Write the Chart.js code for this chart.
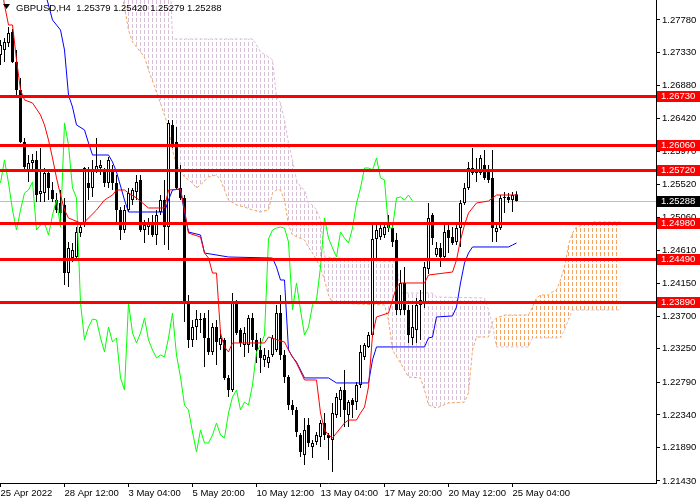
<!DOCTYPE html>
<html>
<head>
<meta charset="utf-8">
<script src="https://cdn.jsdelivr.net/npm/chart.js@4.4.1/dist/chart.umd.min.js"></script>
<style>
  html, body { margin: 0; padding: 0; background: #fff; }
</style>
</head>
<body>
<canvas id="chart" width="700" height="500"></canvas>
<script>
const symbolTitle = 'GBPUSD,H4  1.25379 1.25420 1.25279 1.25288';
const timeTickBars = [0, 16, 32, 48, 64, 80, 96, 112, 128];
const timeLabels = ['25 Apr 2022', '28 Apr 12:00', '3 May 04:00', '5 May 20:00', '10 May 12:00',
  '13 May 04:00', '17 May 20:00', '20 May 12:00', '25 May 04:00'];
const priceTicks = [1.27780, 1.27330, 1.26880, 1.26420, 1.25970, 1.25520, 1.25060, 1.24610,
  1.24150, 1.23700, 1.23250, 1.22790, 1.22340, 1.21890, 1.21430];
const levels = [1.26730, 1.26060, 1.25720, 1.24980, 1.24490, 1.23890];
const bidPrice = 1.25288;
const priceMin = 1.21402;
const priceMax = 1.28055;

// H4 candles, one per bar from 25 Apr 20:00
const open = [1.27297, 1.27366, 1.27463, 1.27614, 1.27201, 1.26815, 1.26099, 1.25714, 1.25810, 1.25852,
  1.25383, 1.25397, 1.25672, 1.25438, 1.25300, 1.25259, 1.25231, 1.24294, 1.24501, 1.24515,
  1.24845, 1.24956, 1.25535, 1.25466, 1.25714, 1.25741, 1.25714, 1.25535, 1.25714, 1.25535,
  1.25162, 1.24887, 1.25162, 1.25300, 1.25411, 1.25576, 1.24887, 1.24928, 1.24997, 1.24818,
  1.25135, 1.25300, 1.24928, 1.26334, 1.26099, 1.25466, 1.25328, 1.23882, 1.23372, 1.23551,
  1.23661, 1.23675, 1.23400, 1.23207, 1.23551, 1.23303, 1.23372, 1.22849, 1.22683, 1.23882,
  1.23510, 1.23303, 1.23303, 1.23675, 1.23372, 1.23234, 1.23097, 1.23055, 1.23165, 1.23234,
  1.23744, 1.23165, 1.22862, 1.22476, 1.22407, 1.22063, 1.21787, 1.22201, 1.21898, 1.21966,
  1.22035, 1.22228, 1.22063, 1.21994, 1.22338, 1.22545, 1.22683, 1.22338, 1.22545, 1.22517,
  1.22752, 1.23138, 1.23276, 1.23441, 1.24763, 1.24790, 1.24818, 1.24997, 1.24914, 1.24749,
  1.23785, 1.24157, 1.23785, 1.23400, 1.23510, 1.23854, 1.23882, 1.24349, 1.25093, 1.24542,
  1.24639, 1.24515, 1.24887, 1.24790, 1.24721, 1.24914, 1.25259, 1.25466, 1.25672, 1.25672,
  1.25672, 1.25783, 1.25714, 1.25604, 1.24859, 1.24914, 1.25328, 1.25342, 1.25300, 1.25379];
const high = [1.27504, 1.27532, 1.27683, 1.27656, 1.27366, 1.26981, 1.26155, 1.25920, 1.25934, 1.25976,
  1.26017, 1.25741, 1.25714, 1.25549, 1.25397, 1.25438, 1.25328, 1.24721, 1.24708, 1.24928,
  1.24983, 1.25755, 1.25755, 1.25852, 1.26155, 1.25852, 1.25741, 1.25893, 1.25783, 1.25645,
  1.25204, 1.25231, 1.25466, 1.25466, 1.25645, 1.25645, 1.25025, 1.25052, 1.25093, 1.25162,
  1.25369, 1.25576, 1.26403, 1.26403, 1.26306, 1.25783, 1.25369, 1.23992, 1.23648, 1.23785,
  1.23744, 1.23744, 1.23785, 1.23606, 1.23648, 1.23510, 1.23400, 1.22890, 1.24019, 1.23923,
  1.23537, 1.23551, 1.23716, 1.23744, 1.23468, 1.23400, 1.23262, 1.23234, 1.23441, 1.23854,
  1.23992, 1.23234, 1.22890, 1.22545, 1.22448, 1.22090, 1.22297, 1.22297, 1.21994, 1.22104,
  1.22269, 1.22366, 1.22090, 1.22504, 1.22642, 1.22725, 1.22959, 1.22545, 1.22573, 1.22793,
  1.23303, 1.23331, 1.23482, 1.24983, 1.24983, 1.24956, 1.24983, 1.25093, 1.24956, 1.24845,
  1.24336, 1.24377, 1.23854, 1.23854, 1.23950, 1.24060, 1.24446, 1.25259, 1.25121, 1.24721,
  1.24708, 1.24956, 1.24983, 1.24928, 1.24983, 1.25300, 1.25535, 1.25824, 1.26017, 1.25879,
  1.25920, 1.25989, 1.25783, 1.25989, 1.24983, 1.25369, 1.25411, 1.25397, 1.25411, 1.25420];
const low = [1.27160, 1.27201, 1.27408, 1.27187, 1.26719, 1.26086, 1.25714, 1.25549, 1.25714, 1.25272,
  1.25272, 1.25272, 1.25300, 1.25272, 1.25121, 1.24983, 1.24129, 1.24102, 1.24446, 1.24501,
  1.24790, 1.24928, 1.25300, 1.25342, 1.25672, 1.25645, 1.25480, 1.25466, 1.25438, 1.24997,
  1.24749, 1.24845, 1.25135, 1.25231, 1.25300, 1.24859, 1.24708, 1.24818, 1.24790, 1.24680,
  1.25093, 1.24680, 1.24611, 1.26017, 1.25438, 1.25300, 1.23620, 1.23262, 1.23276, 1.23372,
  1.23468, 1.23000, 1.23165, 1.23165, 1.23028, 1.23234, 1.22821, 1.22587, 1.22655, 1.23441,
  1.23276, 1.23138, 1.23193, 1.23276, 1.23055, 1.22917, 1.23000, 1.22986, 1.23138, 1.23207,
  1.23097, 1.22780, 1.22407, 1.22338, 1.22035, 1.21760, 1.21650, 1.21898, 1.21747, 1.21925,
  1.21898, 1.21994, 1.21719, 1.21554, 1.22297, 1.22311, 1.22173, 1.22173, 1.22297, 1.22407,
  1.22711, 1.23097, 1.23262, 1.23413, 1.24474, 1.24749, 1.24776, 1.24859, 1.24653, 1.23716,
  1.23716, 1.23716, 1.23331, 1.23303, 1.23331, 1.23372, 1.23813, 1.24281, 1.24680, 1.24515,
  1.24377, 1.24501, 1.24570, 1.24680, 1.24680, 1.24653, 1.25231, 1.25438, 1.25645, 1.25549,
  1.25645, 1.25576, 1.25535, 1.24721, 1.24721, 1.24887, 1.25121, 1.25259, 1.25135, 1.25279];
const close = [1.27435, 1.27476, 1.27600, 1.27201, 1.26815, 1.26099, 1.25755, 1.25810, 1.25852, 1.25369,
  1.25425, 1.25672, 1.25466, 1.25314, 1.25162, 1.25121, 1.24294, 1.24639, 1.24611, 1.24859,
  1.24928, 1.25741, 1.25466, 1.25714, 1.25769, 1.25783, 1.25535, 1.25852, 1.25535, 1.25162,
  1.24887, 1.25162, 1.25397, 1.25438, 1.25549, 1.24887, 1.24956, 1.24983, 1.24818, 1.25093,
  1.25300, 1.24928, 1.26361, 1.26058, 1.25466, 1.25328, 1.23882, 1.23372, 1.23551, 1.23661,
  1.23648, 1.23400, 1.23207, 1.23551, 1.23344, 1.23400, 1.22849, 1.22683, 1.23882, 1.23468,
  1.23331, 1.23468, 1.23675, 1.23372, 1.23234, 1.23124, 1.23165, 1.23138, 1.23400, 1.23744,
  1.23165, 1.22862, 1.22476, 1.22407, 1.22104, 1.21829, 1.22132, 1.21953, 1.21953, 1.22063,
  1.22228, 1.22063, 1.22022, 1.22366, 1.22587, 1.22683, 1.22407, 1.22517, 1.22476, 1.22752,
  1.23207, 1.23303, 1.23441, 1.24763, 1.24887, 1.24914, 1.24928, 1.24914, 1.24721, 1.23785,
  1.24157, 1.23785, 1.23441, 1.23551, 1.23854, 1.23923, 1.24377, 1.25052, 1.24776, 1.24639,
  1.24515, 1.24859, 1.24776, 1.24708, 1.24914, 1.25259, 1.25466, 1.25741, 1.25741, 1.25714,
  1.25879, 1.25604, 1.25576, 1.24914, 1.24914, 1.25328, 1.25342, 1.25300, 1.25369, 1.25288];

// Ichimoku lines, vertices (bar index, price)
const tenkanBars = [0, 1, 2, 3, 4, 5, 6, 8, 10, 11, 12, 13, 14, 15, 16, 17, 20, 21, 24, 26, 28, 29, 31, 32, 34,
  37, 41, 42, 45, 46, 47, 50, 51, 52, 53, 54, 55, 56, 57, 58, 66, 67, 71, 72, 73, 74, 76, 79, 80, 81,
  82, 83, 85, 86, 87, 89, 90, 91, 92, 93, 94, 97, 98, 99, 100, 106, 107, 113, 114, 115, 116, 117, 119, 122, 124, 129];
const tenkanVals = [1.28330, 1.27986, 1.27711, 1.27711, 1.27229, 1.26815, 1.26678, 1.26637, 1.26471, 1.26334,
  1.26127, 1.25879, 1.25604, 1.25369, 1.25162, 1.25052, 1.24983, 1.24997, 1.25162, 1.25300,
  1.25369, 1.25438, 1.25438, 1.25397, 1.25328, 1.25190, 1.25190, 1.25438, 1.25452, 1.25162,
  1.24845, 1.24790, 1.24570, 1.24501, 1.24294, 1.24294, 1.23468, 1.23276, 1.23207, 1.23331,
  1.23331, 1.23413, 1.23344, 1.23234, 1.23138, 1.23055, 1.22821, 1.22821, 1.22366, 1.22132,
  1.22063, 1.22022, 1.22159, 1.22228, 1.22269, 1.22269, 1.22366, 1.22448, 1.22725, 1.23441,
  1.23689, 1.23744, 1.23923, 1.24102, 1.24157, 1.24157, 1.24267, 1.24308, 1.24474, 1.24749,
  1.24956, 1.25121, 1.25259, 1.25286, 1.25369, 1.25369];
const kijunBars = [11, 12, 13, 15, 16, 17, 18, 19, 21, 22, 23, 27, 28, 29, 30, 31, 32, 41, 42, 43, 45, 46, 47, 50, 51,
  57, 68, 69, 70, 71, 72, 73, 74, 75, 76, 82, 84, 92, 93, 94, 106, 107, 108, 109, 113, 114, 115, 116, 117, 118,
  127, 128, 129];
const kijunVals = [1.28193, 1.27986, 1.27780, 1.27642, 1.27366, 1.26746, 1.26581, 1.26334, 1.26265, 1.26086,
  1.25920, 1.25920, 1.25824, 1.25686, 1.25493, 1.25300, 1.25135, 1.25135, 1.25300, 1.25438,
  1.25452, 1.25121, 1.24859, 1.24818, 1.24570, 1.24515, 1.24501, 1.24377, 1.24198, 1.24198,
  1.23234, 1.23138, 1.23069, 1.22959, 1.22849, 1.22849, 1.22780, 1.22780, 1.23097, 1.23276,
  1.23276, 1.23400, 1.23413, 1.23689, 1.23703, 1.23827, 1.24157, 1.24432, 1.24570, 1.24653,
  1.24653, 1.24680, 1.24708];
const spanABars = [26, 30, 31, 32, 33, 36, 37, 39, 41, 42, 43, 44, 46, 48, 49, 50, 52, 54, 55, 56, 57, 59, 61, 63, 65,
  67, 68, 69, 70, 71, 72, 73, 76, 77, 78, 79, 80, 81, 82, 83, 96, 97, 98, 100, 101, 102, 105, 106, 107, 109,
  112, 116, 117, 118, 119, 122, 123, 124, 126, 132, 133, 134, 135, 137, 138, 139, 140, 141, 142, 143, 144, 148, 155];
const spanAVals = [1.28744, 1.28193, 1.27959, 1.27642, 1.27476, 1.27270, 1.27091, 1.26788, 1.26471, 1.26292,
  1.25989, 1.25783, 1.25617, 1.25535, 1.25466, 1.25507, 1.25617, 1.25645, 1.25576, 1.25438,
  1.25300, 1.25231, 1.25204, 1.25162, 1.25135, 1.25162, 1.25397, 1.25438, 1.25438, 1.25300,
  1.24956, 1.24818, 1.24749, 1.24653, 1.24570, 1.24474, 1.24364, 1.24198, 1.23992, 1.23882,
  1.23854, 1.23648, 1.23234, 1.23055, 1.22959, 1.22862, 1.22849, 1.22683, 1.22476, 1.22435,
  1.22504, 1.22517, 1.22642, 1.23234, 1.23413, 1.23413, 1.23620, 1.23675, 1.23716, 1.23716,
  1.23827, 1.23950, 1.23992, 1.23992, 1.24033, 1.24060, 1.24198, 1.24377, 1.24680, 1.24845,
  1.24928, 1.24997, 1.24997];
const spanBBars = [26, 42, 43, 63, 64, 65, 67, 68, 69, 70, 71, 72, 73, 74, 75, 76, 77, 78, 79, 80,
  81, 99, 100, 108, 109, 121, 122, 123, 124, 132, 133, 140, 141, 143, 155];
const spanBVals = [1.28881, 1.28881, 1.27518, 1.27518, 1.27435, 1.27339, 1.27270, 1.27229, 1.26719, 1.26637,
  1.26403, 1.26086, 1.25852, 1.25576, 1.25480, 1.25438, 1.25259, 1.25231, 1.25162, 1.25025,
  1.24515, 1.24446, 1.24019, 1.24019, 1.23964, 1.23950, 1.23785, 1.23579, 1.23276, 1.23276,
  1.23400, 1.23400, 1.23510, 1.23785, 1.23785];
const chikouShift = 26;

const FONT = "'Liberation Sans', Arial, sans-serif";
const canvas = document.getElementById('chart');
const ctx = canvas.getContext('2d');

function pts(xs, ys) {
  return xs.map(function (x, k) { return { x: x, y: ys[k] }; });
}

// dotted vertical hatch like the MT4 cloud histogram, one column per bar
function hatch(color) {
  const c = document.createElement('canvas');
  c.width = 4; c.height = 6;
  const g = c.getContext('2d');
  g.fillStyle = color;
  g.fillRect(0, 0, 1, 4);
  return ctx.createPattern(c, 'repeat');
}

const bodies = close.map(function (c, i) { return { x: i, y: [open[i], c] }; });
const wicks = close.map(function (c, i) { return { x: i, y: [low[i], high[i]] }; });
const chikou = close.slice(chikouShift).map(function (c, i) { return { x: i, y: c }; });

const mt4Overlay = {
  id: 'mt4Overlay',
  beforeDatasetsDraw(chart) {
    const a = chart.chartArea;
    const y = Math.round(chart.scales.y.getPixelForValue(bidPrice)) + 0.5;
    ctx.save();
    ctx.strokeStyle = '#c0c0c0';
    ctx.lineWidth = 1;
    ctx.beginPath();
    ctx.moveTo(a.left, y);
    ctx.lineTo(a.right, y);
    ctx.stroke();
    ctx.restore();
  },
  afterDatasetsDraw(chart) {
    const a = chart.chartArea;
    ctx.save();
    ctx.strokeStyle = '#ff0000';
    ctx.lineWidth = 3;
    levels.forEach(function (lv) {
      const y = Math.round(chart.scales.y.getPixelForValue(lv)) + 0.5;
      ctx.beginPath();
      ctx.moveTo(a.left, y);
      ctx.lineTo(a.right, y);
      ctx.stroke();
    });
    ctx.restore();
  },
  afterDraw(chart) {
    const a = chart.chartArea;
    const ys = chart.scales.y;
    ctx.save();
    ctx.font = '9.5px ' + FONT;
    ctx.textBaseline = 'middle';
    ctx.textAlign = 'left';
    function box(v, bg) {
      const y = Math.round(ys.getPixelForValue(v));
      ctx.fillStyle = bg;
      ctx.fillRect(a.right + 1, y - 5, 43, 11);
      ctx.fillStyle = '#fff';
      ctx.fillText(v.toFixed(5), a.right + 5, y + 0.5);
    }
    levels.forEach(function (lv) { box(lv, '#ff0000'); });
    box(bidPrice, '#000');

    ctx.fillStyle = '#000';
    ctx.beginPath();
    ctx.moveTo(3, 4);
    ctx.lineTo(10, 4);
    ctx.lineTo(6.5, 9);
    ctx.closePath();
    ctx.fill();
    ctx.fillText(symbolTitle, 16, 8);
    ctx.restore();
  }
};

new Chart(ctx, {
  type: 'bar',
  data: {
    datasets: [
      {
        type: 'line', data: pts(spanABars, spanAVals), borderColor: '#f4a460', borderWidth: 1,
        borderDash: [3, 2], pointRadius: 0, tension: 0, order: 10,
        fill: { target: 1, above: hatch('#f4a460'), below: hatch('#d8bfd8') }
      },
      {
        type: 'line', data: pts(spanBBars, spanBVals), borderColor: '#d8bfd8', borderWidth: 1,
        borderDash: [3, 2], pointRadius: 0, tension: 0, fill: false, order: 9
      },
      {
        type: 'bar', data: wicks, backgroundColor: '#000', borderWidth: 0, barThickness: 1,
        grouped: false, inflateAmount: 0, order: 6
      },
      {
        type: 'bar', data: bodies,
        backgroundColor: bodies.map(function (b) { return b.y[1] < b.y[0] ? '#000' : '#fff'; }),
        borderColor: '#000', borderWidth: 1, borderSkipped: false, barThickness: 3,
        minBarLength: 1, grouped: false, inflateAmount: 0, order: 5
      },
      {
        type: 'line', data: chikou, borderColor: '#00ff00', borderWidth: 1,
        pointRadius: 0, tension: 0, fill: false, order: 3
      },
      {
        type: 'line', data: pts(kijunBars, kijunVals), borderColor: '#0000ff', borderWidth: 1,
        pointRadius: 0, tension: 0, fill: false, order: 2
      },
      {
        type: 'line', data: pts(tenkanBars, tenkanVals), borderColor: '#ff0000', borderWidth: 1,
        pointRadius: 0, tension: 0, fill: false, order: 1
      }
    ]
  },
  options: {
    responsive: false,
    animation: false,
    devicePixelRatio: 1,
    layout: { padding: 0, autoPadding: false },
    plugins: {
      legend: { display: false },
      tooltip: { enabled: false },
      title: { display: false }
    },
    scales: {
      x: {
        type: 'linear',
        position: 'bottom',
        offset: false,
        min: -0.125,
        max: 163.875,
        afterBuildTicks: function (s) { s.ticks = timeTickBars.map(function (v) { return { value: v }; }); },
        afterFit: function (s) { s.height = 17; s.paddingLeft = 0; s.paddingRight = 0; },
        grid: { offset: false, drawOnChartArea: false, color: '#000', tickLength: 4 },
        border: { color: '#000', width: 1 },
        ticks: {
          autoSkip: false, maxRotation: 0, align: 'start', padding: 1, color: '#000',
          font: { family: FONT, size: 9.5 },
          callback: function (v, i) { return timeLabels[i]; }
        }
      },
      y: {
        type: 'linear',
        position: 'right',
        min: priceMin,
        max: priceMax,
        afterBuildTicks: function (s) { s.ticks = priceTicks.map(function (v) { return { value: v }; }); },
        afterFit: function (s) { s.width = 44; s.paddingTop = 0; s.paddingBottom = 0; },
        grid: { drawOnChartArea: false, color: '#000', tickLength: 4 },
        border: { color: '#000', width: 1 },
        ticks: {
          padding: 2, color: '#000',
          font: { family: FONT, size: 9.5 },
          callback: function (v) { return v.toFixed(5); }
        }
      }
    }
  },
  plugins: [mt4Overlay]
});
</script>
</body>
</html>
